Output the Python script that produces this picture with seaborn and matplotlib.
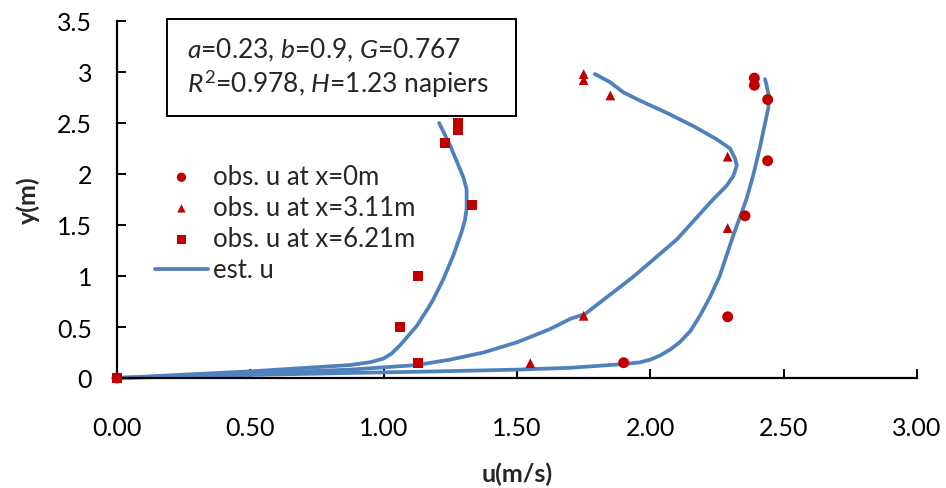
import matplotlib
matplotlib.use("Agg")
import matplotlib.pyplot as plt
from matplotlib.patches import Rectangle
import seaborn as sns
import pandas as pd

# Observed velocity profiles (u in m/s, y in m)
obs0_u = [0.00, 1.90, 2.29, 2.355, 2.44, 2.44, 2.39, 2.39]
obs0_y = [0.00, 0.15, 0.60, 1.59, 2.13, 2.73, 2.87, 2.94]
obs1_u = [0.00, 1.55, 1.75, 2.29, 2.29, 1.85, 1.75, 1.75]
obs1_y = [0.00, 0.145, 0.61, 1.47, 2.17, 2.77, 2.92, 2.98]
obs2_u = [0.00, 1.13, 1.06, 1.13, 1.33, 1.23, 1.28, 1.28]
obs2_y = [0.00, 0.15, 0.50, 1.00, 1.70, 2.30, 2.43, 2.50]

# Estimated velocity profiles
est0_u = [0.00, 0.50, 0.87, 1.20, 1.50, 1.70, 1.81, 1.90, 1.96, 2.00, 2.036, 2.075, 2.11,
          2.15, 2.186, 2.225, 2.26, 2.31, 2.36, 2.385, 2.41, 2.436, 2.442, 2.446, 2.436, 2.43]
est0_y = [0.00, 0.03, 0.049, 0.065, 0.082, 0.10, 0.12, 0.137, 0.153, 0.18, 0.22, 0.28, 0.35,
          0.46, 0.61, 0.80, 1.00, 1.39, 1.75, 1.98, 2.25, 2.57, 2.64, 2.74, 2.87, 2.93]
est1_u = [0.00, 0.50, 0.874, 1.124, 1.249, 1.374, 1.50, 1.624, 1.70, 1.755, 1.935,
          2.10, 2.235, 2.286, 2.311, 2.324, 2.318, 2.299, 2.249, 2.161, 2.061, 1.961,
          1.899, 1.849, 1.792]
est1_y = [0.00, 0.045, 0.082, 0.127, 0.18, 0.25, 0.35, 0.48, 0.58, 0.627, 0.99,
          1.36, 1.75, 1.885, 1.98, 2.08, 2.15, 2.25, 2.34, 2.47, 2.60, 2.72,
          2.80, 2.90, 2.98]
est2_u = [0.00, 0.50, 0.874, 0.95, 0.999, 1.03, 1.061, 1.124, 1.168, 1.186, 1.224, 1.261,
          1.292, 1.305, 1.311, 1.311, 1.30, 1.286, 1.249, 1.208]
est2_y = [0.00, 0.065, 0.127, 0.155, 0.19, 0.24, 0.32, 0.51, 0.69, 0.77, 0.97, 1.20,
          1.43, 1.55, 1.66, 1.85, 1.96, 2.05, 2.28, 2.50]

series_labels = ["obs. u at x=0m", "obs. u at x=3.11m", "obs. u at x=6.21m", "est. u"]
x_ticks = [0.0, 0.5, 1.0, 1.5, 2.0, 2.5, 3.0]
x_tick_labels = ["0.00", "0.50", "1.00", "1.50", "2.00", "2.50", "3.00"]
y_ticks = [0.0, 0.5, 1.0, 1.5, 2.0, 2.5, 3.0, 3.5]
y_tick_labels = ["0", "0.5", "1", "1.5", "2", "2.5", "3", "3.5"]

RED = "#C00000"
BLUE = "#4F81BD"

sns.set_theme(style="ticks")
plt.rcParams["font.family"] = ["Lato", "DejaVu Sans"]
plt.rcParams["mathtext.fontset"] = "custom"
plt.rcParams["mathtext.rm"] = "Lato"
plt.rcParams["mathtext.it"] = "Lato:italic"

W, H = 946, 489
fig = plt.figure(figsize=(W / 100, H / 100), dpi=100)
fig.patch.set_facecolor("white")
ax = fig.add_axes([117 / W, 1 - 379 / H, 800 / W, 357 / H])
ax.set_facecolor("white")

# estimated profiles
for i, (u, y) in enumerate([(est0_u, est0_y), (est1_u, est1_y), (est2_u, est2_y)]):
    df = pd.DataFrame({"u": u, "y": y})
    sns.lineplot(data=df, x="u", y="y", sort=False, estimator=None, ax=ax,
                 color=BLUE, linewidth=2.7, label=series_labels[3] if i == 0 else None,
                 zorder=2, clip_on=False)
for ln in ax.lines:
    ln.set_solid_joinstyle("round")
    ln.set_solid_capstyle("round")

# observed points
obs_sets = [(obs0_u, obs0_y, "o", 62), (obs1_u, obs1_y, "^", 50), (obs2_u, obs2_y, "s", 50)]
for (u, y, mk, s), lab in zip(obs_sets, series_labels[:3]):
    sns.scatterplot(x=u, y=y, marker=mk, s=s, color=RED, edgecolor="none",
                    ax=ax, label=lab, zorder=3, clip_on=False)

ax.set_xlim(0, 3.0)
ax.set_ylim(0, 3.5)
ax.set_xticks(x_ticks, x_tick_labels)
ax.set_yticks(y_ticks, y_tick_labels)
ax.tick_params(axis="both", direction="in", length=6.5, width=1.4, colors="black",
               labelsize=18)
ax.tick_params(axis="x", pad=27)
ax.tick_params(axis="y", pad=18)
for side in ("top", "right"):
    ax.spines[side].set_visible(False)
for side in ("left", "bottom"):
    ax.spines[side].set_color("black")
    ax.spines[side].set_linewidth(1.6)

ax.set_xlabel("u(m/s)", fontsize=18, fontweight="bold", va="center")
ax.set_ylabel("y(m)", fontsize=18, fontweight="bold", va="center")
ax.xaxis.set_label_coords(0.5, (379 - 474) / 357)
ax.yaxis.set_label_coords((28 - 117) / 800, 0.5)

# legend order: markers first, then the fitted line
handles, labels = ax.get_legend_handles_labels()
order = [labels.index(l) for l in series_labels]
leg = ax.legend([handles[i] for i in order], [labels[i] for i in order],
                loc="upper left", bbox_to_anchor=(155 / W, 1 - 165 / H),
                bbox_transform=fig.transFigure, frameon=False, fontsize=18.5,
                handlelength=2.06, handletextpad=0.2, labelspacing=0.24,
                borderpad=0, borderaxespad=0, markerscale=0.85)

# parameter box
fig.patches.append(Rectangle((167 / W, 1 - 116.5 / H), (515.5 - 167) / W, (116.5 - 20) / H,
                             transform=fig.transFigure, facecolor="white",
                             edgecolor="black", linewidth=1.4, zorder=5))
fig.text(187 / W, 1 - 50 / H, r"$a$=0.23, $b$=0.9, $G$=0.767", fontsize=19,
         va="center", ha="left", zorder=6)
fig.text(187 / W, 1 - 84 / H, r"$R^{2}$=0.978, $H$=1.23 napiers", fontsize=19,
         va="center", ha="left", zorder=6)

fig.savefig("out.png", dpi=100)
